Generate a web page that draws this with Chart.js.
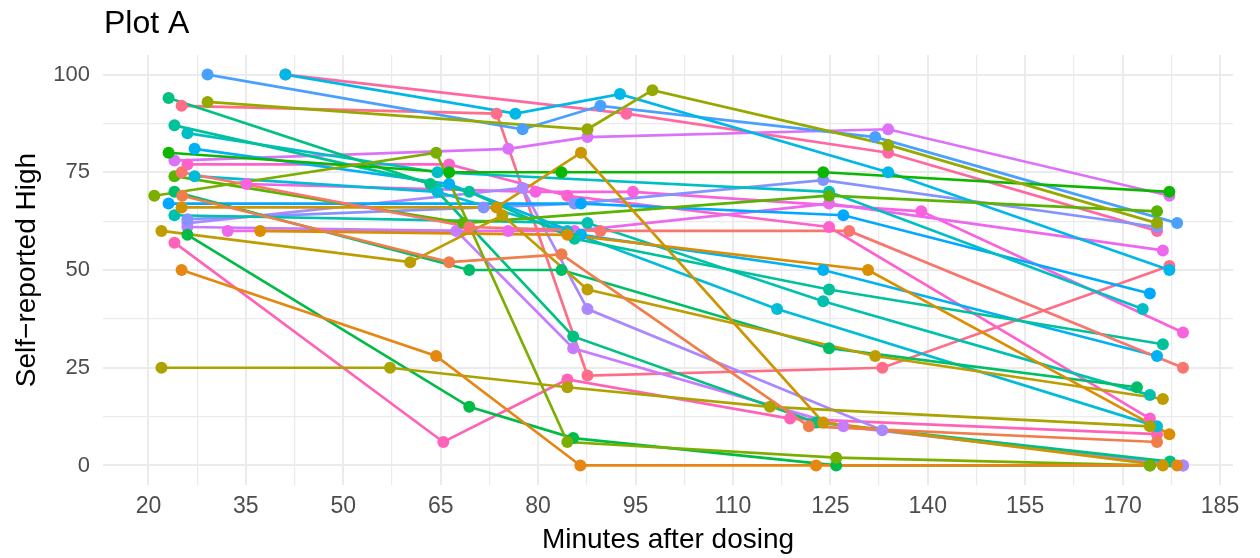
<!DOCTYPE html>
<html>
<head>
<meta charset="utf-8">
<title>Plot A</title>
<script src="https://cdn.jsdelivr.net/npm/chart.js@4.4.1/dist/chart.umd.min.js"></script>
<style>
  html, body { margin:0; padding:0; background:#fff; }
  #chart { display:block; }
</style>
</head>
<body>
<canvas id="chart" width="1260" height="558"></canvas>
<script>
// one row per subject: minutes after dosing and self-reported high
const subjects = ['S01','S02','S03','S04','S05','S06','S07','S08','S09','S10','S11','S12','S13','S14','S15','S16',
                  'S17','S18','S19','S20','S21','S22','S23','S24','S25','S26','S27','S28','S29','S30','S31','S32'];

const minutes = [
  [29.1, 77.6, 89.6, 131.9, 178.4],
  [41.1, 76.5, 92.6, 133.9, 177.2],
  [25.1, 73.6, 87.6, 133.0, 177.2],
  [29.1, 87.6, 97.6, 133.9, 175.3],
  [41.1, 93.6, 133.9, 175.3],
  [24.0, 75.4, 87.6, 133.9, 177.2],
  [23.1, 66.3, 83.6, 123.9, 177.2],
  [20.9, 64.3, 84.5, 125.9, 174.2],
  [24.0, 68.5, 124.8, 175.3],
  [22.0, 60.3, 74.5, 87.6, 131.9, 176.2],
  [25.1, 73.6, 86.6, 123.9, 176.2],
  [37.2, 84.5, 130.8, 177.2],
  [22.0, 57.2, 84.5, 115.7, 174.2],
  [25.1, 64.3, 86.5, 122.8, 178.4],
  [25.1, 69.4, 89.6, 127.9, 179.3],
  [25.2, 66.3, 83.6, 121.7, 175.3],
  [24.0, 69.4, 83.6, 124.8, 172.2],
  [26.0, 69.4, 85.4, 125.9, 174.2],
  [23.1, 63.4, 85.4, 122.8, 177.3],
  [24.0, 69.4, 85.6, 124.8, 176.2],
  [26.0, 64.5, 124.8, 173.1],
  [24.0, 87.6, 123.9, 174.2],
  [27.1, 64.5, 84.5, 116.8, 175.3],
  [27.1, 66.3, 86.6, 123.9, 175.3],
  [23.1, 86.6, 127.0, 174.2],
  [26.0, 71.6, 85.6, 123.9, 175.3],
  [26.0, 77.6, 87.6, 133.0, 179.3],
  [26.0, 67.4, 85.4, 127.0, 179.3],
  [35.1, 79.6, 94.6, 139.0, 179.3],
  [32.2, 75.4, 85.6, 124.8, 176.2],
  [26.0, 66.3, 84.5, 124.8, 174.2],
  [24.0, 65.4, 84.5, 118.8, 175.3]
];

const high = [
  [100, 86, 92, 84, 62],
  [100, 90, 95, 75, 50],
  [92, 90, 23, 25, 51],
  [93, 86, 96, 82, 62],
  [100, 90, 80, 60],
  [78, 81, 84, 86, 69],
  [80, 75, 75, 75, 70],
  [69, 80, 6, 2, 0],
  [74, 62, 69, 65],
  [60, 52, 64, 45, 28, 17],
  [66, 66, 80, 11, 0],
  [60, 59, 50, 8],
  [25, 25, 20, 15, 10],
  [50, 28, 0, 0, 0],
  [75, 61, 60, 60, 25],
  [69, 52, 54, 10, 6],
  [70, 50, 50, 30, 20],
  [59, 15, 7, 0, 0],
  [94, 72, 33, 11, 1],
  [87, 70, 58, 45, 31],
  [85, 75, 70, 40],
  [64, 62, 42, 18],
  [74, 70, 60, 40, 10],
  [81, 72, 59, 50, 28],
  [67, 67, 64, 44],
  [63, 66, 67, 73, 61],
  [62, 71, 40, 9, 0],
  [61, 60, 30, 10, 0],
  [72, 70, 70, 65, 34],
  [60, 60, 60, 67, 55],
  [77, 77, 69, 61, 12],
  [57, 6, 22, 12, 8]
];

const xTicks = [20, 35, 50, 65, 80, 95, 110, 125, 140, 155, 170, 185];
const xMinor = [27.5, 42.5, 57.5, 72.5, 87.5, 102.5, 117.5, 132.5, 147.5, 162.5, 177.5];
const yTicks = [0, 25, 50, 75, 100];
const yMinor = [12.5, 37.5, 62.5, 87.5];

// colour slot of each subject in the 32-step hue wheel
const hueSlot = [21,18,31,7,30,25,10,8,9,5,4,3,6,2,0,1,12,11,13,14,16,15,17,19,20,22,23,24,27,26,28,29];

// ggplot-style hue palette: hcl(h, c=100, l=65)
function hcl(h, c, l) {
  const hr = h * Math.PI / 180;
  const U = c * Math.cos(hr), V = c * Math.sin(hr);
  const Xn = 95.047, Yn = 100, Zn = 108.883;
  const den = Xn + 15 * Yn + 3 * Zn;
  const un = 4 * Xn / den, vn = 9 * Yn / den;
  const Y = l > 8 ? Yn * Math.pow((l + 16) / 116, 3) : Yn * l / 903.3;
  const u = U / (13 * l) + un, v = V / (13 * l) + vn;
  const X = 9 * Y * u / (4 * v), Z = -X / 3 - 5 * Y + 3 * Y / v;
  const lin = [
    3.240479 * X - 1.537150 * Y - 0.498535 * Z,
    -0.969256 * X + 1.875992 * Y + 0.041556 * Z,
    0.055648 * X - 0.204043 * Y + 1.057311 * Z
  ].map(t => t / 100);
  const g = t => {
    t = t <= 0.0031308 ? 12.92 * t : 1.055 * Math.pow(t, 1 / 2.4) - 0.055;
    return Math.round(Math.max(0, Math.min(1, t)) * 255);
  };
  return 'rgb(' + lin.map(g).join(',') + ')';
}
const palette = Array.from({length: 32}, (_, i) => hcl(15 + 360 * i / 32, 100, 65));

const FONT = '"Liberation Sans", Arial, Helvetica, sans-serif';

const datasets = [];
subjects.forEach((id, k) => {
  const pts = minutes[k].map((t, j) => ({x: t, y: high[k][j]}));
  const col = palette[hueSlot[k]];
  // lines underneath, points on top
  datasets.push({label: id, data: pts, showLine: true, borderColor: col, borderWidth: 2.7,
                 pointRadius: 0, tension: 0, order: 100 + hueSlot[k]});
  datasets.push({label: id, data: pts, showLine: false, backgroundColor: col, borderWidth: 0,
                 pointRadius: 6, order: hueSlot[k]});
});

const titlePlugin = {
  id: 'plotTitle',
  afterDraw(chart) {
    const c = chart.ctx;
    c.save();
    c.font = '32px ' + FONT;
    c.fillStyle = '#000';
    c.textBaseline = 'alphabetic';
    c.fillText('Plot A', 104, 33);
    c.restore();
  }
};

const gridColor = '#EBEBEB';

new Chart(document.getElementById('chart'), {
  type: 'scatter',
  data: { datasets },
  plugins: [titlePlugin],
  options: {
    responsive: false,
    animation: false,
    layout: { padding: { top: 55, right: 27, left: 0, bottom: 0 } },
    plugins: { legend: { display: false }, tooltip: { enabled: false } },
    scales: {
      x: {
        type: 'linear', min: 13, max: 187,
        afterBuildTicks: s => { s.ticks = xTicks.concat(xMinor).sort((a, b) => a - b).map(v => ({value: v})); },
        afterFit: s => { s.height = 73; },
        ticks: {
          autoSkip: false, maxRotation: 0, padding: 8, color: '#4D4D4D',
          font: { family: FONT, size: 23 },
          callback: v => xTicks.includes(v) ? String(v) : ''
        },
        grid: {
          color: gridColor, drawTicks: false,
          lineWidth: c => (c.tick && xTicks.includes(c.tick.value)) ? 2 : 1.2
        },
        border: { display: false },
        title: { display: true, text: 'Minutes after dosing', color: '#000',
                 font: { family: FONT, size: 28 }, padding: { top: 0, bottom: 1 } }
      },
      y: {
        type: 'linear', min: -5, max: 105,
        afterBuildTicks: s => { s.ticks = yTicks.concat(yMinor).sort((a, b) => a - b).map(v => ({value: v})); },
        afterFit: s => { s.width = 103; },
        ticks: {
          padding: 13, color: '#4D4D4D',
          font: { family: FONT, size: 22 },
          callback: v => yTicks.includes(v) ? String(v) : ''
        },
        grid: {
          color: gridColor, drawTicks: false,
          lineWidth: c => (c.tick && yTicks.includes(c.tick.value)) ? 2 : 1.2
        },
        border: { display: false },
        title: { display: true, text: 'Self\u2212reported High', color: '#000',
                 font: { family: FONT, size: 28 }, padding: { top: 10, bottom: 0 } }
      }
    }
  }
});
</script>
</body>
</html>
